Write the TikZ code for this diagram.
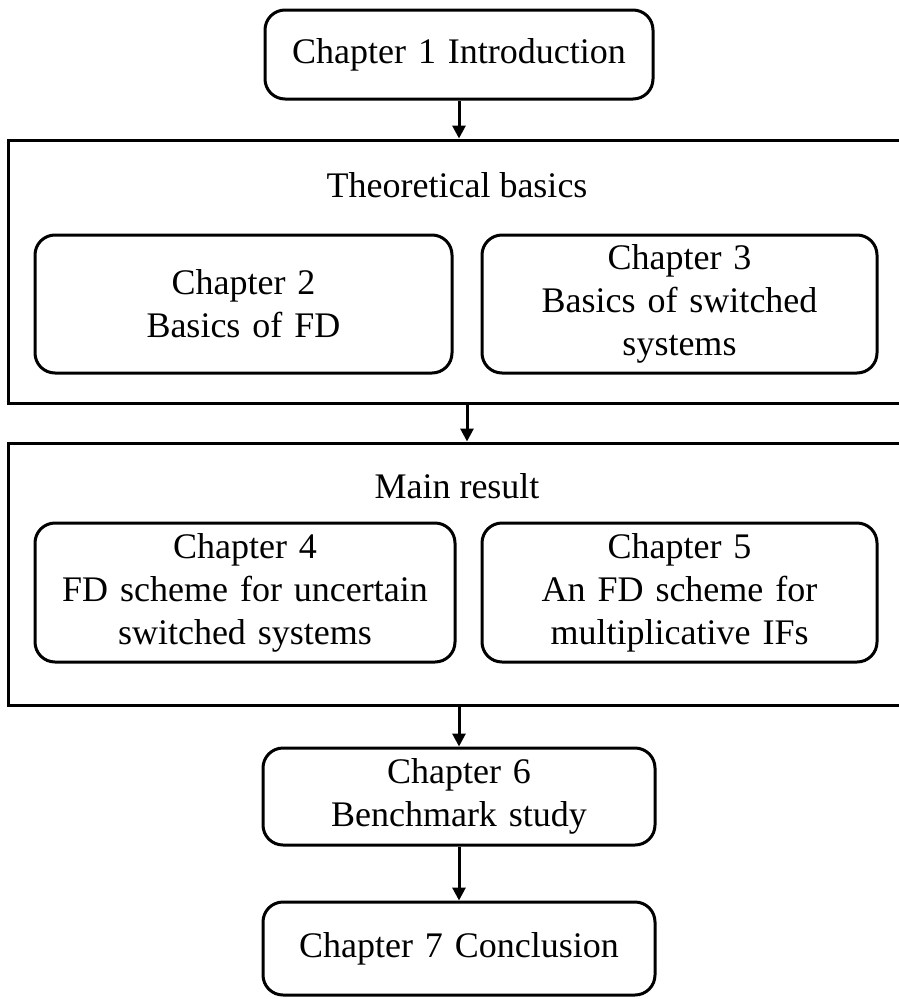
\documentclass[tikz,border=0pt]{standalone}
\usepackage{fontspec}
\setmainfont{Liberation Serif}
\usetikzlibrary{arrows.meta}

\tikzset{
  every node/.style={font=\fontsize{36pt}{43pt}\selectfont, inner sep=0pt, align=center},
  chapbox/.style={draw, line width=3pt, rounded corners=20pt, text width=#1, minimum width=#1},
  chapbox/.default=390pt,
  groupbox/.style={draw, line width=3pt, rectangle},
  flow/.style={line width=3pt, -{Triangle[length=13pt,width=13pt]}},
}

\begin{document}
\begin{tikzpicture}[x=1pt, y=-1pt]
  \useasboundingbox (0,0) rectangle (898,999);

  % opening chapter
  \node[chapbox=388pt, minimum height=89pt] (ch1) at (459,54.5) {Chapter 1 Introduction};

  % first group: theoretical basics
  \node[groupbox, minimum width=897pt, minimum height=263pt] (theo) at (456.5,271.5) {};
  \node[anchor=base] (theotitle) at (457,197) {Theoretical basics};
  \node[chapbox=417pt, minimum height=138pt] (ch2) at (243.5,304) {Chapter 2\\Basics of FD};
  \node[chapbox=395pt, minimum height=138pt] (ch3) at (679.5,304) {Chapter 3\\Basics of switched\\systems};

  % second group: main result
  \node[groupbox, minimum width=897pt, minimum height=262pt] (main) at (456.5,574) {};
  \node[anchor=base] (maintitle) at (457,498) {Main result};
  \node[chapbox=420pt, minimum height=139pt] (ch4) at (245,592.5) {Chapter 4\\FD scheme for uncertain\\switched systems};
  \node[chapbox=395pt, minimum height=139pt] (ch5) at (679.5,592.5) {Chapter 5\\An FD scheme for\\multiplicative IFs};

  % closing chapters
  \node[chapbox=392pt, minimum height=97pt] (ch6) at (459,796.5) {Chapter 6\\Benchmark study};
  \node[chapbox=392pt, minimum height=93pt] (ch7) at (459,948.5) {Chapter 7 Conclusion};

  % connectors
  \draw[flow] (ch1.south) -- (ch1.south |- theo.north);
  \draw[flow] ([xshift=8pt]theo.south -| ch1.south) -- ([xshift=8pt]main.north -| ch1.south);
  \draw[flow] (main.south -| ch6.north) -- (ch6.north);
  \draw[flow] (ch6.south) -- (ch7.north);
\end{tikzpicture}
\end{document}
